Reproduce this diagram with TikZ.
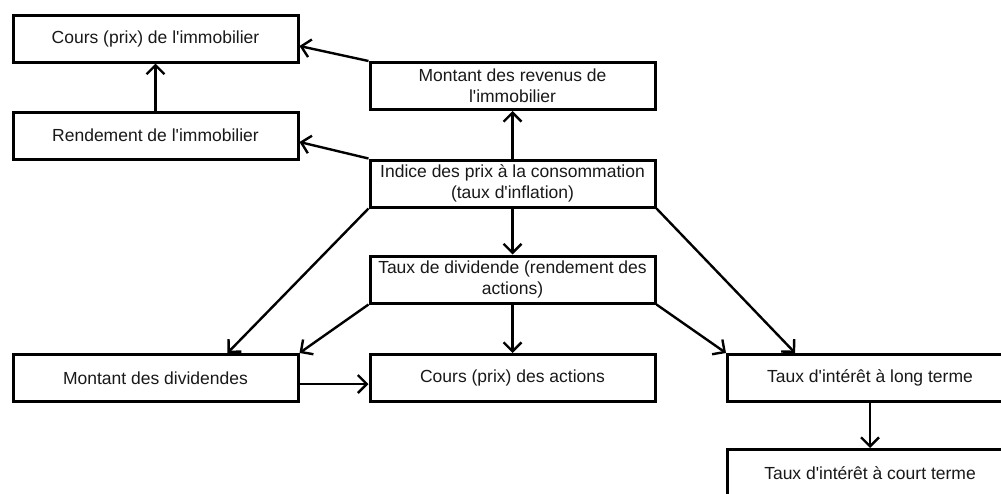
\documentclass[tikz,border=0pt]{standalone}
\usepackage{fontspec}
\setmainfont{Liberation Sans}[Ligatures=TeXOff]
\usetikzlibrary{arrows.meta,calc}
\tikzset{
  box/.style={draw=black, line width=3pt, fill=white, minimum width=285pt,
    minimum height=47pt, align=center, inner sep=2pt,
    font=\fontsize{17.5}{21}\selectfont, text=black!90},
  link/.style={line width=2.4pt, -{Straight Barb[length=9pt,width=18pt,line width=2.4pt]}},
}
\begin{document}
\begin{tikzpicture}[x=1pt, y=-1pt]
\useasboundingbox (0,0) rectangle (1001,493);
\clip (0,0) rectangle (1001,493);
\fill[white] (0,0) rectangle (1001,493);

% real-estate branch
\node[box] (cimmo) at (155.5,38.5) {Cours (prix) de l'immobilier};
\node[box] (rimmo) at (155.5,135.5) {Rendement de l'immobilier};
\node[box] (revimmo) at (512.5,86) {Montant des revenus de\\l'immobilier};

% central chain
\node[box] (ipc) at (512.5,183.5) {Indice des prix à la consommation\\(taux d'inflation)};
\node[box] (tdiv) at (512.5,279.5) {Taux de dividende (rendement des\\actions)};

% bottom row
\node[box] (mdiv) at (155.5,378) {Montant des dividendes};
\node[box] (cact) at (512.5,378) {Cours (prix) des actions};
\node[box] (tlong) at (870,378) {Taux d'intérêt à long terme};
\node[box] (tcourt) at (870,473) {Taux d'intérêt à court terme};

% attachment points on box sides
\coordinate (cimmoR) at ($(cimmo.north east)!0.65!(cimmo.south east)$);
\coordinate (rimmoR) at ($(rimmo.north east)!0.63!(rimmo.south east)$);
\coordinate (mdivT) at ($(mdiv.north west)!0.75!(mdiv.north east)$);
\coordinate (mdivR) at ($(mdiv.north east)!0.62!(mdiv.south east)$);
\coordinate (tlongT) at ($(tlong.north west)!0.24!(tlong.north east)$);

% connectors
\draw[link] (revimmo.north west) -- (cimmoR);
\draw[link] (rimmo.north) -- (cimmo.south);
\draw[link] (ipc.north west) -- (rimmoR);
\draw[link] (ipc.north) -- (revimmo.south);
\draw[link] (ipc.south) -- (tdiv.north);
\draw[link] (ipc.south west) -- (mdivT);
\draw[link] (ipc.south east) -- (tlongT);
\draw[link] (tdiv.south west) -- (mdiv.north east);
\draw[link] (tdiv.south) -- (cact.north);
\draw[link] (tdiv.south east) -- (tlong.north west);
\draw[link] (mdivR) -- (mdivR -| cact.west);
\draw[link] (tlong.south) -- (tcourt.north);
\end{tikzpicture}
\end{document}
